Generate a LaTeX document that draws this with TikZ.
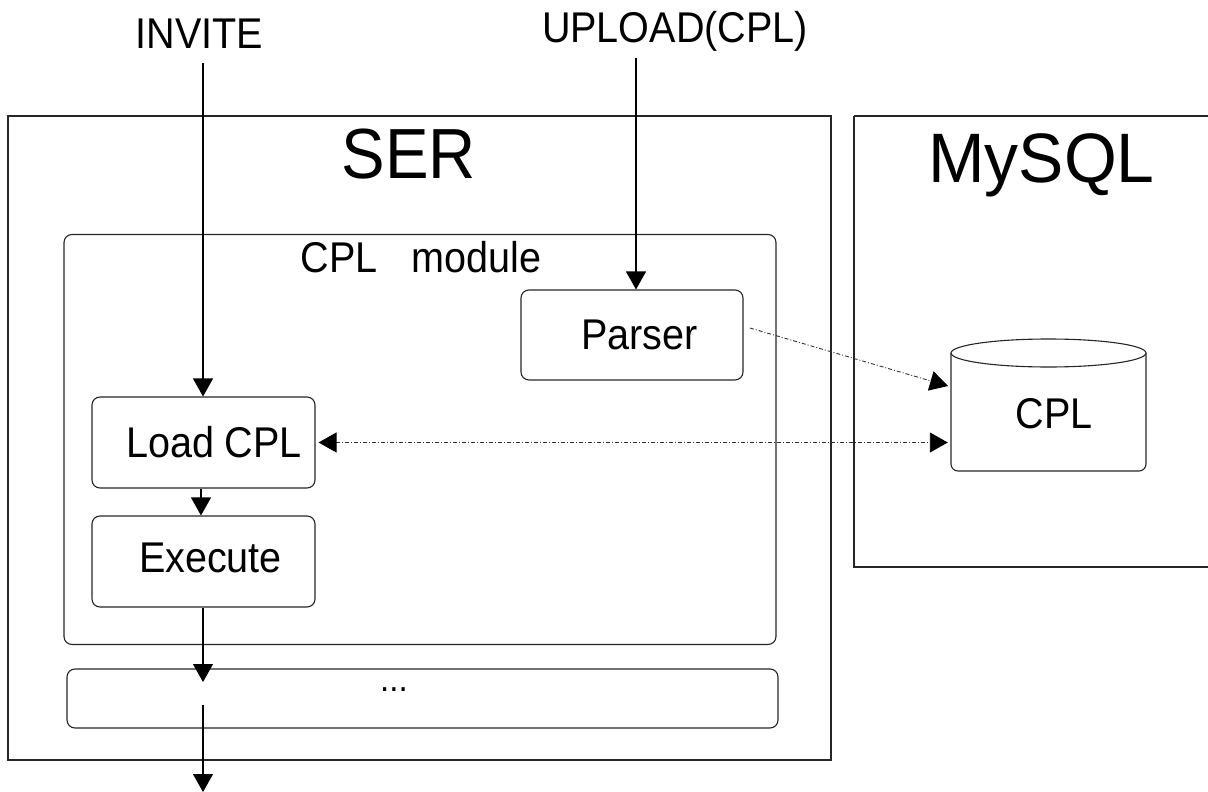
\documentclass[tikz,border=0pt]{standalone}
\usepackage{fontspec}
\setmainfont[FakeStretch=0.92]{Liberation Sans}
\newfontfamily\wideface[FakeStretch=0.97]{Liberation Sans}
\usetikzlibrary{arrows.meta,calc}
\tikzset{
  frame/.style={draw=black!85, line width=1.1pt},
  rbox/.style={draw=black!85, line width=1.1pt, rounded corners=8pt, inner sep=0pt},
  txt/.style={inner sep=0pt, anchor=base, font=\fontsize{43}{46}\selectfont},
  bigtxt/.style={inner sep=0pt, anchor=base, font=\fontsize{71}{74}\selectfont},
  arr/.style={line width=1.1pt, -{Triangle[length=18pt,width=20pt]}},
  dd/.style={line width=0.9pt, black!80, dash pattern=on 4pt off 2pt on 1pt off 2pt},
  ddhead/.style={-{Triangle[length=18pt,width=20pt,color=black]}},
  ddboth/.style={{Triangle[length=18pt,width=20pt,color=black]}-{Triangle[length=18pt,width=20pt,color=black]}},
}
\begin{document}
\begin{tikzpicture}[x=1pt,y=-1pt]
\useasboundingbox (0,0) rectangle (1208,792);
% outer frames
\draw[frame] (8,116) rectangle (831,760);
\draw[frame] (854,116) -- (1215,116);
\draw[frame] (854,116) -- (854,567) -- (1215,567);
% boxes
\node[rbox, minimum width=712pt, minimum height=410pt] (mod) at (420,439.5) {};
\node[rbox, minimum width=222pt, minimum height=90pt] (parser) at (632,335) {};
\node[rbox, minimum width=223pt, minimum height=91pt] (load) at (203.5,442.5) {};
\node[rbox, minimum width=223pt, minimum height=91pt] (exec) at (203.5,561.5) {};
\node[rbox, minimum width=711pt, minimum height=59pt] (dots) at (422.5,698.5) {};
% cylinder
\node[minimum width=195pt, minimum height=132pt, inner sep=0pt] (cyl) at (1048.5,405) {};
\draw[line width=1.1pt, black!85, rounded corners=7pt] (1146,353) -- (1146,471) -- (951,471) -- (951,353);
\draw[line width=1.1pt, black!85, fill=white] (1048.5,353) ellipse [x radius=97.5, y radius=14];
% texts
\node[txt] (inv) at (199.5,49) {INVITE};
\node[txt] (upl) at (675,43) {UPLOAD(CPL)};
\node[bigtxt] (ser) at (409,178) {SER};
\node[bigtxt, font=\wideface\fontsize{70}{72}\selectfont] (mysql) at (1041.5,182) {MySQL};
\node[txt] (modt) at (421,272) {CPL\hspace{34pt}module};
\node[txt] (parsert) at (639.5,349) {Parser};
\node[txt] (loadt) at (214,457) {Load CPL};
\node[txt] (exect) at (210.5,572) {Execute};
\node[txt] (cylt) at (1054,428) {CPL};
\node[txt, font=\fontsize{36}{38}\selectfont] (dotst) at (394,691) {...};
% connector end points
\coordinate (invs) at (203,63);
\coordinate (upls) at (636,58);
\coordinate (exin) at (203,682);
\coordinate (exout) at (203,705);
\coordinate (bottom) at (203,792);
\coordinate (ps) at (750,328);
\coordinate (pe) at (948,386);
\coordinate (lx) at (201,0);
% connectors
\draw[arr] (invs) -- (invs |- load.north);
\draw[arr] (upls) -- (upls |- parser.north);
\draw[arr] (load.south -| lx) -- (exec.north -| lx);
\draw[arr] (exec.south -| exin) -- (exin);
\draw[arr] (exout) -- (bottom);
\draw[dd, ddhead] (ps) -- (pe);
\draw[dd, ddboth, shorten <=3pt, shorten >=3pt] (load.east) -- (load.east -| cyl.west);
\end{tikzpicture}
\end{document}
